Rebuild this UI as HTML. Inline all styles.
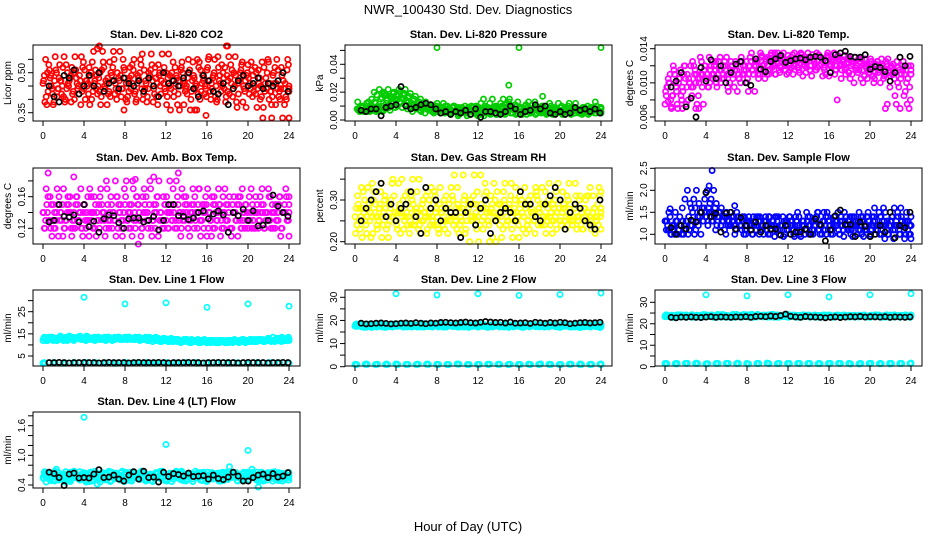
<!DOCTYPE html>
<html><head><meta charset="utf-8"><style>
html,body{margin:0;padding:0;background:#fff}
svg{display:block;font-family:"Liberation Sans",sans-serif}
</style></head><body>
<svg id="chart" width="936" height="540" viewBox="0 0 936 540">
<text x="468" y="14" text-anchor="middle" font-size="13">NWR_100430  Std. Dev. Diagnostics</text>
<text x="468" y="531" text-anchor="middle" font-size="13">Hour of Day (UTC)</text>
</svg>
<script>
// ---- data ----
const xTickLabels = [0,4,8,12,16,20,24];
const co2Red = [0.46,0.55,0.43,0.49,0.38,0.51,0.44,0.47,0.41,0.53,0.45,0.39,0.50,0.48,0.42,0.56,0.44,0.47,0.52,0.40,0.46,0.49,0.43,0.51,0.45,0.38,0.54,0.47,0.42,0.50,0.58,0.44,0.48,0.41,0.52,0.46,0.43,0.49,0.55,0.40,0.47,0.44,0.51,0.39,0.48,0.53,0.42,0.46,0.50,0.57,0.44,0.41,0.49,0.47,0.52,0.38,0.45,0.50,0.43,0.48,0.36,0.54,0.46,0.42,0.51,0.47,0.44,0.55,0.40,0.49,0.45,0.52,0.43,0.48,0.41,0.56,0.46,0.50,0.39,0.47,0.53,0.44,0.49,0.42,0.51,0.45,0.37,0.48,0.54,0.43,0.50,0.46,0.41,0.52,0.44,0.40,0.33];
const co2OutX = [5.3,5.5,17.9,18.0,15.9,7.9,14.8,22.3];
const co2OutY = [0.59,0.60,0.60,0.60,0.34,0.36,0.36,0.38];
const co2Black = [0.45,0.41,0.39,0.49,0.48,0.51,0.42,0.45,0.49,0.45,0.50,0.43,0.46,0.47,0.44,0.48,0.46,0.45,0.47,0.43,0.48,0.45,0.41,0.50,0.46,0.47,0.45,0.48,0.50,0.44,0.41,0.49,0.47,0.43,0.42,0.46,0.38,0.44,0.47,0.49,0.45,0.46,0.48,0.44,0.46,0.45,0.47,0.50,0.43];

const presGreen = [0.008,0.006,0.009,0.007,0.010,0.006,0.008,0.013,0.007,0.009,0.006,0.008,0.010,0.007,0.012,0.009,0.015,0.020,0.018,0.022,0.016,0.019,0.014,0.017,0.012,0.015,0.010,0.013,0.009,0.011,0.008,0.010,0.006,0.009,0.012,0.007,0.008,0.005,0.010,0.007,0.009,0.006,0.008,0.005,0.007,0.010,0.006,0.004,0.009,0.007,0.003,0.008,0.006,0.005,0.009,0.004,0.007,0.010,0.006,0.012,0.015,0.009,0.007,0.005,0.008,0.004,0.006,0.009,0.005,0.011,0.013,0.008,0.007,0.010,0.006,0.005,0.008,0.004,0.007,0.006,0.009,0.005,0.007,0.010,0.006,0.008,0.012,0.007,0.005,0.008,0.006,0.004,0.009,0.007,0.005,0.006,0.005];
const presOutX = [8,16,24,15,18.3];
const presOutY = [0.052,0.052,0.052,0.025,0.017];
const presBlack = [0.007,0.006,0.008,0.008,0.003,0.009,0.010,0.011,0.024,0.010,0.008,0.009,0.011,0.012,0.011,0.008,0.005,0.006,0.004,0.006,0.005,0.007,0.004,0.008,0.002,0.006,0.006,0.005,0.004,0.006,0.010,0.008,0.004,0.006,0.007,0.011,0.008,0.010,0.005,0.004,0.006,0.004,0.005,0.009,0.007,0.008,0.006,0.008,0.005];

const tempMag = [0.0075,0.0095,0.0110,0.0085,0.0100,0.0070,0.0115,0.0090,0.0105,0.0080,0.0120,0.0095,0.0100,0.0085,0.0110,0.0075,0.0105,0.0095,0.0120,0.0110,0.0100,0.0125,0.0115,0.0105,0.0130,0.0110,0.0120,0.0095,0.0115,0.0105,0.0125,0.0110,0.0100,0.0120,0.0115,0.0090,0.0125,0.0110,0.0120,0.0105,0.0130,0.0115,0.0125,0.0110,0.0135,0.0120,0.0128,0.0115,0.0132,0.0122,0.0110,0.0128,0.0118,0.0135,0.0125,0.0112,0.0130,0.0120,0.0127,0.0115,0.0133,0.0122,0.0118,0.0130,0.0108,0.0125,0.0135,0.0120,0.0128,0.0115,0.0132,0.0122,0.0127,0.0110,0.0130,0.0120,0.0125,0.0115,0.0128,0.0105,0.0122,0.0118,0.0112,0.0125,0.0100,0.0120,0.0115,0.0128,0.0108,0.0122,0.0112,0.0118,0.0105,0.0125,0.0115,0.0120,0.0110];
const tempOutX = [1.7,3.0,3.3,16.8,21.5,0.3,0.6];
const tempOutY = [0.0070,0.0070,0.0070,0.0080,0.0070,0.0078,0.0072];
const tempBlack = [0.0095,0.0102,0.0112,0.0072,0.0082,0.0060,0.0118,0.0102,0.0127,0.0105,0.0120,0.0100,0.0112,0.0122,0.0125,0.0100,0.0097,0.0128,0.0116,0.0113,0.0125,0.0128,0.0132,0.0124,0.0126,0.0128,0.0129,0.0127,0.0130,0.0131,0.0130,0.0126,0.0112,0.0133,0.0135,0.0137,0.0131,0.0130,0.0130,0.0133,0.0116,0.0119,0.0118,0.0113,0.0102,0.0112,0.0130,0.0120,0.0131];

const ambMag = [0.14,0.13,0.16,0.12,0.15,0.13,0.11,0.14,0.17,0.13,0.15,0.12,0.14,0.16,0.13,0.12,0.15,0.14,0.11,0.13,0.16,0.14,0.12,0.15,0.13,0.17,0.14,0.12,0.13,0.16,0.14,0.11,0.15,0.13,0.14,0.18,0.12,0.15,0.13,0.16,0.14,0.12,0.17,0.13,0.15,0.11,0.14,0.16,0.13,0.12,0.15,0.14,0.18,0.13,0.12,0.16,0.14,0.13,0.15,0.12,0.14,0.17,0.13,0.15,0.11,0.14,0.16,0.12,0.13,0.15,0.14,0.17,0.13,0.12,0.15,0.14,0.11,0.16,0.13,0.15,0.12,0.14,0.13,0.16,0.12,0.14,0.15,0.13,0.17,0.12,0.14,0.13,0.15,0.12,0.14,0.16,0.14];
const ambOutX = [0.5,3.0,9.0,13.2,10.8,9.3];
const ambOutY = [0.19,0.185,0.182,0.19,0.185,0.10];
const ambBlack = [0.128,0.130,0.150,0.135,0.134,0.137,0.128,0.150,0.122,0.129,0.115,0.132,0.137,0.136,0.127,0.120,0.132,0.133,0.133,0.128,0.130,0.135,0.118,0.130,0.150,0.150,0.136,0.135,0.131,0.133,0.140,0.142,0.132,0.138,0.142,0.137,0.115,0.140,0.136,0.144,0.130,0.142,0.123,0.124,0.130,0.162,0.148,0.140,0.135];

const rhYellow = [0.26,0.31,0.23,0.28,0.25,0.33,0.27,0.22,0.29,0.26,0.32,0.24,0.28,0.21,0.30,0.26,0.25,0.34,0.27,0.23,0.29,0.26,0.31,0.24,0.28,0.35,0.25,0.27,0.22,0.30,0.26,0.32,0.24,0.29,0.27,0.23,0.28,0.25,0.31,0.26,0.33,0.24,0.28,0.22,0.27,0.30,0.25,0.29,0.26,0.36,0.23,0.28,0.25,0.31,0.27,0.20,0.29,0.26,0.32,0.24,0.28,0.34,0.25,0.27,0.21,0.30,0.26,0.29,0.23,0.28,0.25,0.31,0.27,0.33,0.24,0.29,0.26,0.22,0.30,0.27,0.25,0.32,0.28,0.24,0.29,0.26,0.34,0.25,0.28,0.23,0.30,0.27,0.25,0.31,0.26,0.24,0.28];
const rhOutX = [];
const rhOutY = [];
const rhBlack = [0.25,0.28,0.30,0.32,0.34,0.26,0.29,0.25,0.28,0.29,0.32,0.26,0.22,0.33,0.28,0.30,0.25,0.28,0.27,0.27,0.21,0.27,0.29,0.24,0.28,0.30,0.22,0.25,0.27,0.28,0.27,0.25,0.32,0.29,0.29,0.26,0.25,0.29,0.31,0.33,0.30,0.23,0.27,0.29,0.28,0.25,0.24,0.23,0.30];

const flowBlue = [1.3,1.2,1.4,1.1,1.5,1.0,1.2,1.3,1.1,1.0,1.2,1.3,1.1,1.2,1.0,1.3,1.4,1.6,1.8,2.0,1.7,1.5,1.6,1.4,1.5,1.3,1.4,1.2,1.5,1.3,1.1,1.4,1.2,1.3,1.0,1.3,1.2,1.4,1.1,1.3,1.2,1.0,1.3,1.4,1.1,1.2,1.4,1.0,1.2,1.3,1.1,1.4,1.2,0.95,1.3,1.1,1.2,1.0,1.3,1.4,1.1,1.2,1.5,1.0,1.3,1.1,1.4,1.2,1.0,1.3,1.5,1.2,1.1,1.4,1.3,1.0,1.2,1.3,1.1,1.4,0.95,1.2,1.3,1.1,1.4,1.2,1.5,1.0,1.3,1.1,1.2,1.4,1.6,1.2,1.0,1.3,0.9];
const flowOutX = [4.6,4.3,4.0,6.8,0.5];
const flowOutY = [2.45,2.1,1.95,1.65,1.58];
const flowBlack = [1.15,1.0,1.2,1.12,1.32,1.28,1.5,1.95,1.4,1.48,1.05,1.48,1.5,1.12,1.38,1.2,1.1,1.28,1.05,1.2,1.12,1.12,0.98,1.2,1.0,1.05,1.05,1.12,1.0,1.35,1.22,0.85,1.1,1.42,1.55,1.22,1.22,0.95,1.28,1.18,0.95,1.0,1.2,1.05,1.5,0.92,1.2,1.15,1.5];

const line1Cyan = [12,13,12.5,13.5,12,13,12.5,13,12,13.5,12.5,13,12,13,13.5,12.5,13,14,13,12.5,13.5,13,12.5,13,13.5,12.5,13,12,13.5,13,12.5,13,13.5,12.5,13,12.5,13.5,13,12.5,13,13.5,12.5,13,12.5,13.5,13,12.5,13,12,12.5,13,12,12.5,11.5,12,12.5,11.5,12,12.5,11.5,12,11.5,12,12.5,11,11.5,12,11.5,11,12,11.5,11,12,11.5,11,12,11.5,12,11.5,11,12,11.5,12,11.5,12,12.5,11.5,12,12.5,11.5,12,12.5,12,11.5,12.5,12,12];
const line1CyanLow = [1.8,1.9,1.7,2.0,1.8,1.9,1.8,1.7,2.0,1.9,1.8,1.8,1.9,1.7,1.8,2.0,1.9,1.8,1.7,1.9,1.8,2.0,1.8,1.9,1.8];
const line1OutX = [4,8,12,16,20,24];
const line1OutY = [31.5,28.5,29,27,28.5,27.5];
const line1Black = [2.0,2.0,2.1,2.0,1.9,2.0,2.0,2.1,2.0,2.0,1.9,2.0,2.1,2.0,2.0,2.0,1.9,2.0,2.1,2.0,2.0,2.0,2.1,2.0,1.9,2.0,2.0,2.0,2.1,2.0,2.0,1.9,2.0,2.0,2.1,2.0,2.0,2.0,1.9,2.0,2.1,2.0,2.0,2.0,1.9,2.0,2.0,2.1,2.0];

const line2CyanA = [17.5,18,17,18.5,17.5,18,17,18.2,17.6,18,17.3,18.4,17.8,17.2,18,17.5,18.3,17.7,17.1,18,17.6,18.4,17.3,17.9,18.6,17.5,18,17.2,18.2,17.7,17.4,18.1,17.6,17.0,18.3,17.8,17.4,18,17.5,18.2,17.1,17.8,18.3,17.5,17.9,17.2,18,17.6,17.4];
const line2CyanB = [18,17.3,18.2,17.6,17.1,18.4,17.7,17.4,18.1,17.5,18.3,17.6,17.1,18.2,17.8,17.4,18,17.3,18.5,17.7,17.2,17.9,18.3,17.5,17.1,18.2,17.7,18.4,17.4,18,17.6,17.2,18.3,17.8,17.5,18.1,17.3,17.9,18.2,17.6,17.4,18,17.5,17.2,18.1,17.7,17.3,18,17.6];
const line2CyanLow = [1.0,1.1,0.9,1.0,1.2,1.0,0.9,1.1,1.0,1.0,1.2,0.9,1.0,1.1,1.0,0.9,1.0,1.1,1.0,1.0,0.9,1.1,1.0,1.0,1.1];
const line2OutX = [4,8,12,16,20,24];
const line2OutY = [31.5,31,31.5,30.8,31.2,31.8];
const line2Black = [18.8,18.5,18.6,18.8,18.9,18.7,18.5,18.6,18.8,18.9,18.7,19.0,18.8,18.6,18.9,18.8,19.1,19.2,19.0,18.9,19.1,19.3,19.0,18.9,19.2,19.5,19.3,19.1,19.2,18.9,19.3,18.8,18.9,19.0,18.7,19.2,19.0,18.8,19.1,18.9,19.2,19.0,18.6,18.8,19.0,19.1,18.9,19.0,19.2];

const line3CyanA = [23.3,23.8,23.0,24.2,23.4,23.9,23.1,24.0,23.5,23.8,23.2,24.1,23.6,23.0,23.9,23.4,24.2,23.6,23.1,23.9,23.5,24.3,23.2,23.8,24.4,23.4,23.9,23.1,24.0,23.6,23.3,24.0,23.5,23.0,24.1,23.7,23.3,23.9,23.4,24.0,23.1,23.7,24.1,23.4,23.8,23.1,23.9,23.5,23.3];
const line3CyanB = [23.9,23.2,24.0,23.5,23.0,24.2,23.6,23.3,24.0,23.4,24.1,23.5,23.0,24.0,23.7,23.3,23.9,23.2,24.3,23.6,23.1,23.8,24.1,23.4,23.0,24.0,23.6,24.2,23.3,23.9,23.5,23.1,24.1,23.7,23.4,24.0,23.2,23.8,24.0,23.5,23.3,23.9,23.4,23.1,24.0,23.6,23.2,23.9,23.5];
const line3CyanLow = [1.5,1.4,1.6,1.5,1.3,1.5,1.6,1.4,1.5,1.5,1.7,1.4,1.5,1.6,1.5,1.4,1.5,1.6,1.5,1.3,1.5,1.4,1.6,1.5,1.5];
const line3OutX = [4,8,12,16,20,24];
const line3OutY = [33.5,33,33.5,32.5,33.5,34];
const line3Black = [23.0,22.8,23.1,23.0,23.2,23.0,22.9,23.1,23.3,23.0,23.2,23.1,23.0,23.2,23.1,23.3,23.0,23.4,23.5,23.3,23.6,23.4,23.8,24.5,23.5,23.2,23.0,23.4,23.2,23.1,23.0,22.8,23.0,23.2,22.9,23.1,23.3,23.2,23.4,23.1,23.3,23.2,23.1,23.3,23.0,23.2,23.1,23.0,23.2];

const line4CyanA = [0.55,0.62,0.50,0.66,0.58,0.48,0.60,0.53,0.65,0.57,0.50,0.62,0.55,0.68,0.52,0.60,0.47,0.63,0.56,0.51,0.66,0.58,0.53,0.61,0.49,0.64,0.57,0.52,0.62,0.55,0.68,0.50,0.59,0.54,0.63,0.48,0.60,0.56,0.65,0.52,0.58,0.62,0.50,0.66,0.55,0.60,0.53,0.63,0.57];
const line4CyanB = [0.60,0.52,0.65,0.57,0.49,0.63,0.55,0.67,0.51,0.60,0.58,0.46,0.64,0.56,0.61,0.50,0.66,0.54,0.59,0.63,0.48,0.57,0.65,0.52,0.60,0.55,0.68,0.50,0.58,0.63,0.54,0.61,0.47,0.65,0.56,0.60,0.52,0.64,0.49,0.58,0.62,0.55,0.66,0.51,0.59,0.48,0.63,0.56,0.60];
const line4OutX = [4,12,20,18.2,1.3,21,5.3,20.4];
const line4OutY = [1.77,1.22,1.10,0.77,0.72,0.36,0.42,0.72];
const line4Black = [0.66,0.63,0.55,0.39,0.62,0.64,0.54,0.55,0.54,0.62,0.71,0.55,0.56,0.60,0.52,0.48,0.60,0.67,0.52,0.68,0.55,0.56,0.46,0.66,0.57,0.63,0.61,0.58,0.64,0.57,0.58,0.59,0.52,0.60,0.53,0.51,0.56,0.66,0.58,0.48,0.48,0.55,0.60,0.62,0.55,0.63,0.56,0.58,0.65];

// ---- layout ----
const svg = document.getElementById('chart');
const NS = 'http://www.w3.org/2000/svg';
const colLeft = [33, 345, 655];
const rowTop = [45, 168, 290, 412];
const BOXW = 267, BOXH = 76;
// overplotting passes: [index shift, hour offset]
const passes = [[0,0],[3,0.125],[7,0.0625],[11,0.19]];

function mk(tag, attrs) {
  const e = document.createElementNS(NS, tag);
  for (const k in attrs) e.setAttribute(k, attrs[k]);
  return e;
}

const panels = [
  {name:'co2', title:'Stan. Dev. Li-820 CO2', ylab:'Licor ppm', col:0,row:0, y1:0.35,p1:112.7,y2:0.50,p2:72.7, ticks:[0.35,0.40,0.45,0.50,0.55], labels:[0.35,0.50], dec:2, color:'#ff0000',
   series:[[co2Red,0,24]], outX:co2OutX,outY:co2OutY, black:co2Black},
  {name:'pressure', title:'Stan. Dev. Li-820 Pressure', ylab:'kPa', col:1,row:0, y1:0,p1:120,y2:0.04,p2:64.3, ticks:[0,0.01,0.02,0.03,0.04,0.05], labels:[0,0.02,0.04], dec:2, color:'#00cc00',
   series:[[presGreen,0.2,24]], outX:presOutX,outY:presOutY, black:presBlack},
  {name:'li820-temp', title:'Stan. Dev. Li-820 Temp.', ylab:'degrees C', col:2,row:0, y1:0.006,p1:117,y2:0.014,p2:48.7, ticks:[0.006,0.008,0.010,0.012,0.014], labels:[0.006,0.010,0.014], dec:3, color:'#ff00ff',
   series:[[tempMag,0,24]], outX:tempOutX,outY:tempOutY, black:tempBlack},
  {name:'amb-box-temp', title:'Stan. Dev. Amb. Box Temp.', ylab:'degrees C', col:0,row:1, y1:0.12,p1:228.3,y2:0.16,p2:196.7, ticks:[0.12,0.14,0.16,0.18], labels:[0.12,0.16], dec:2, color:'#ff00ff',
   series:[[ambMag,0,24]], outX:ambOutX,outY:ambOutY, black:ambBlack},
  {name:'gas-stream-rh', title:'Stan. Dev. Gas Stream RH', ylab:'percent', col:1,row:1, y1:0.20,p1:241.7,y2:0.30,p2:200, ticks:[0.20,0.25,0.30,0.35], labels:[0.20,0.30], dec:2, color:'#ffff00',
   series:[[rhYellow,0,24]], outX:rhOutX,outY:rhOutY, black:rhBlack},
  {name:'sample-flow', title:'Stan. Dev. Sample Flow', ylab:'ml/min', col:2,row:1, y1:1.0,p1:234.3,y2:2.5,p2:168.3, ticks:[1.0,1.5,2.0,2.5], labels:[1.0,1.5,2.0,2.5], dec:1, color:'#0000ff',
   series:[[flowBlue,0,24]], outX:flowOutX,outY:flowOutY, black:flowBlack},
  {name:'line1-flow', title:'Stan. Dev. Line 1 Flow', ylab:'ml/min', col:0,row:2, y1:5,p1:356,y2:25,p2:311.7, ticks:[5,10,15,20,25,30], labels:[5,15,25], dec:0, color:'#00ffff',
   series:[[line1Cyan,0,24],[line1CyanLow,0,23.9]], outX:line1OutX,outY:line1OutY, black:line1Black},
  {name:'line2-flow', title:'Stan. Dev. Line 2 Flow', ylab:'ml/min', col:1,row:2, y1:0,p1:366.7,y2:30,p2:297.3, ticks:[0,5,10,15,20,25,30], labels:[0,10,20,30], dec:0, color:'#00ffff',
   series:[[line2CyanA,0,23.8],[line2CyanB,0.12,23.9],[line2CyanLow,0,23.9]], outX:line2OutX,outY:line2OutY, black:line2Black},
  {name:'line3-flow', title:'Stan. Dev. Line 3 Flow', ylab:'ml/min', col:2,row:2, y1:0,p1:366.7,y2:30,p2:302.3, ticks:[0,5,10,15,20,25,30], labels:[0,10,20,30], dec:0, color:'#00ffff',
   series:[[line3CyanA,0,23.8],[line3CyanB,0.12,23.9],[line3CyanLow,0,23.9]], outX:line3OutX,outY:line3OutY, black:line3Black},
  {name:'line4-flow', title:'Stan. Dev. Line 4 (LT) Flow', ylab:'ml/min', col:0,row:3, y1:0.4,p1:485,y2:1.6,p2:425.7, ticks:[0.4,0.6,0.8,1.0,1.2,1.4,1.6,1.8], labels:[0.4,1.0,1.6], dec:1, color:'#00ffff',
   series:[[line4CyanA,0,23.8],[line4CyanB,0.12,23.9]], outX:line4OutX,outY:line4OutY, black:line4Black}
];

function drawPanel(p) {
  const L = colLeft[p.col], T = rowTop[p.row], B = T + BOXH;
  const xs = h => L + 10 + Math.min(24, h) * (246 / 24);
  const ys = v => p.p1 + (v - p.y1) * (p.p2 - p.p1) / (p.y2 - p.y1);
  const g = mk('g', {});
  
  
  svg.appendChild(g);

  const title = mk('text', {x: L + BOXW/2, y: T - 7, 'text-anchor':'middle', 'font-size':'11', 'font-weight':'bold'});
  title.textContent = p.title;
  
  
  g.appendChild(title);

  const yl = mk('text', {x: 0, y: 0, 'text-anchor':'middle', 'font-size':'10', transform:`translate(${L-22},${T+BOXH/2}) rotate(-90)`});
  yl.textContent = p.ylab;
  
  
  g.appendChild(yl);

  const pts = mk('g', {fill:'none', 'stroke-width':'1.7'});
  
  
  g.appendChild(pts);
  function dot(h, v, color, nm) {
    const c = mk('circle', {cx: xs(h).toFixed(1), cy: ys(v).toFixed(1), r: 2.6, stroke: color});
    
    
    pts.appendChild(c);
  }
  p.series.forEach(s => {
    const arr = s[0], h0 = s[1], h1 = s[2], n = arr.length;
    passes.forEach(ps => {
      arr.forEach((_, i) => dot(h0 + i * (h1 - h0) / (n - 1) + ps[1], arr[(i + ps[0]) % n], p.color, p.name + '-point'));
    });
  });
  p.outX.forEach((h, i) => dot(h, p.outY[i], p.color, p.name + '-outlier'));
  p.black.forEach((v, i) => dot(0.6 + i * (23.3 / (p.black.length - 1)), v, '#000', p.name + '-hourly-point'));

  const box = mk('rect', {x: L, y: T, width: BOXW, height: BOXH, fill:'none', stroke:'#000', 'stroke-width':'1'});
  
  
  g.appendChild(box);

  const xa = mk('g', {stroke:'#000', 'stroke-width':'1'});
  
  
  g.appendChild(xa);
  xa.appendChild(mk('line', {x1: xs(0), y1: B, x2: xs(24), y2: B}));
  xTickLabels.forEach(t => {
    xa.appendChild(mk('line', {x1: xs(t), y1: B, x2: xs(t), y2: B + 5}));
    const tx = mk('text', {x: xs(t), y: B + 18, 'text-anchor':'middle', 'font-size':'10', stroke:'none', fill:'#000'});
    tx.textContent = t;
    
    
    xa.appendChild(tx);
  });

  const ya = mk('g', {stroke:'#000', 'stroke-width':'1'});
  
  
  g.appendChild(ya);
  ya.appendChild(mk('line', {x1: L, y1: ys(p.ticks[0]), x2: L, y2: ys(p.ticks[p.ticks.length-1])}));
  p.ticks.forEach(t => ya.appendChild(mk('line', {x1: L - 5, y1: ys(t), x2: L, y2: ys(t)})));
  p.labels.forEach(t => {
    const tx = mk('text', {x: 0, y: 0, 'text-anchor':'middle', 'font-size':'10', stroke:'none', fill:'#000', transform:`translate(${L-8},${ys(t)}) rotate(-90)`});
    tx.textContent = t.toFixed(p.dec);
    
    
    ya.appendChild(tx);
  });
}
panels.forEach(drawPanel);
</script>
</body></html>
